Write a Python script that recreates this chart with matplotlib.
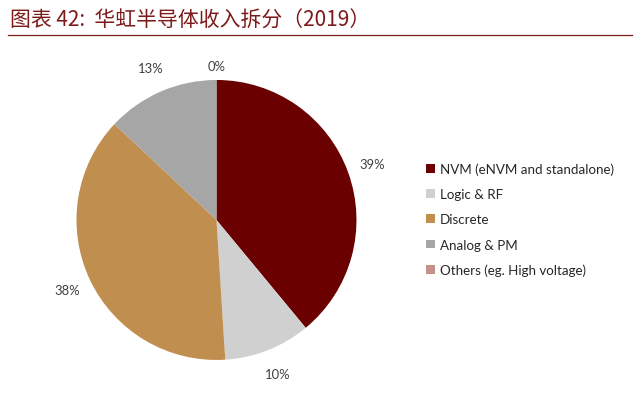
import matplotlib
matplotlib.use('Agg')
import matplotlib.pyplot as plt
import numpy as np

plt.rcParams['font.family'] = ['Lato', 'Noto Sans CJK SC', 'DejaVu Sans']

TITLE = '图表 42:  华虹半导体收入拆分（2019）'
CATEGORIES = ['NVM (eNVM and standalone)', 'Logic & RF', 'Discrete',
              'Analog & PM', 'Others (eg. High voltage)']
SHARES = [39, 10, 38, 13, 0]
COLORS = ['#6B0000', '#D0D0D0', '#C08F4F', '#A6A6A6', '#C4918A']

RED = '#7E1A1A'

fig = plt.figure(figsize=(6.4, 4.06), dpi=100)
fig.patch.set_facecolor('white')

# title + rule
fig.text(0.016, 0.948, TITLE, fontsize=15, color=RED, style='italic',
         family=['Noto Sans CJK SC', 'DejaVu Sans'], ha='left', va='center')
fig.add_artist(plt.Line2D([0.012, 0.988], [0.911, 0.911], color=RED, lw=0.9))

# pie
ax = fig.add_axes([0.3383 - 0.2188, 0.4557 - 0.3448, 0.4375, 0.6897])
wedges, _ = ax.pie(SHARES, colors=COLORS, startangle=90, counterclock=False,
                   radius=1.0, wedgeprops={'linewidth': 0})
ax.set_xlim(-1, 1)
ax.set_ylim(-1, 1)
ax.set_aspect('equal')
ax.axis('off')

# percentage labels outside the slices
total = sum(SHARES)
start = 0.0
for v in SHARES:
    mid = (start + v / 2) / total * 2 * np.pi
    dist = 1.1 if v == 0 else 1.18
    ax.text(dist * np.sin(mid), dist * np.cos(mid), f'{v}%',
            ha='center', va='center', fontsize=9.4, color='#404040', clip_on=False)
    start += v

fig.legend(wedges, CATEGORIES, loc='center left', bbox_to_anchor=(0.666, 0.457),
           frameon=False, fontsize=9.6, handlelength=0.62, handleheight=0.62,
           handletextpad=0.4, labelspacing=0.98, borderpad=0, borderaxespad=0,
           labelcolor='#262626')

plt.savefig('out.png', dpi=100)
